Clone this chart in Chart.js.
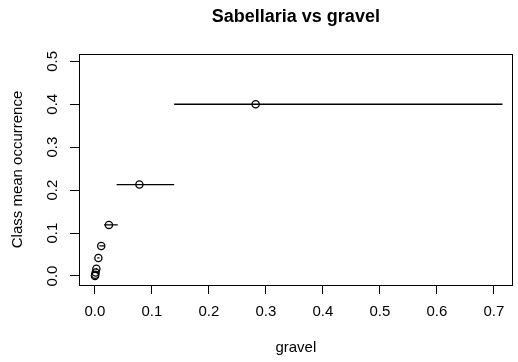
<!DOCTYPE html>
<html lang="en">

<head>
  <meta charset="UTF-8">
  <title>Sabellaria vs gravel</title>
  <style>
    body { margin: 0; background: #fff; }
    .grafico { width: 518px; height: 362px; }
  </style>
</head>

<body>
  <div class="grafico">
    <canvas id="chartSabellaria"></canvas>
  </div>
</body>

</html>
<script src="https://cdn.jsdelivr.net/npm/chart.js"></script>

<script>
  // valores (média de cada classe de gravel)
  var gravelMedia = [0.282, 0.078, 0.0245, 0.011, 0.006, 0.0025, 0.0012, 0.0005, 0.0];
  var ocorrencia = [0.400, 0.213, 0.119, 0.070, 0.042, 0.017, 0.008, 0.003, 0.0];
  // limites de cada classe (barra horizontal)
  var gravelMin = [0.139, 0.038, 0.016, 0.008, 0.004, 0.0015, 0.0008, 0.0002, 0.0];
  var gravelMax = [0.715, 0.139, 0.040, 0.016, 0.008, 0.004, 0.0016, 0.0008, 0.0002];

  var ticksX = [0, 0.1, 0.2, 0.3, 0.4, 0.5, 0.6, 0.7];
  var ticksY = [0, 0.1, 0.2, 0.3, 0.4, 0.5];

  var fonte = "'Liberation Sans', Arial, sans-serif";

  // uma linha para cada classe
  var datasets = [];
  for (var i = 0; i < gravelMedia.length; i++) {
    datasets.push({
      data: [{ x: gravelMin[i], y: ocorrencia[i] }, { x: gravelMax[i], y: ocorrencia[i] }],
      showLine: true,
      borderColor: '#000',
      borderWidth: 1.3,
      pointRadius: 0
    });
  }
  // os círculos
  datasets.push({
    data: gravelMedia.map((g, i) => ({ x: g, y: ocorrencia[i] })),
    pointStyle: 'circle',
    pointRadius: 3.6,
    borderWidth: 1.3,
    borderColor: '#000',
    backgroundColor: 'rgba(0,0,0,0)'
  });

  // caixa em volta da área do gráfico
  var moldura = {
    id: 'moldura',
    afterDraw(chart) {
      var a = chart.chartArea;
      var ctx = chart.ctx;
      ctx.save();
      ctx.strokeStyle = '#000';
      ctx.lineWidth = 1;
      ctx.strokeRect(Math.round(a.left) + 0.5, Math.round(a.top) + 0.5,
        Math.round(a.right - a.left) - 1, Math.round(a.bottom - a.top));
      ctx.restore();
    }
  };

  var eixo = {
    grid: { drawOnChartArea: false, drawTicks: true, tickLength: 9, color: '#000', lineWidth: 1 },
    border: { display: true, color: '#000', width: 1 }
  };

  var canva = document.getElementById("chartSabellaria");
  var grafico = new Chart(canva, {
    type: 'scatter',
    data: { datasets: datasets },
    options: {
      responsive: true,
      maintainAspectRatio: false,
      animation: false,
      layout: { padding: { left: 0, right: 1, top: 0, bottom: 0 } },
      plugins: {
        legend: { display: false },
        tooltip: { enabled: false },
        title: {
          display: true,
          fullSize: false,
          text: 'Sabellaria vs gravel',
          color: '#000',
          font: { family: fonte, size: 18, weight: 'bold' },
          padding: { top: 6, bottom: 26.4 }
        }
      },
      scales: {
        x: {
          type: 'linear',
          min: -0.028,
          max: 0.733,
          afterBuildTicks: (s) => { s.ticks = ticksX.map(v => ({ value: v })); },
          afterFit: (s) => { s.height = 77; s.paddingLeft = 0; s.paddingRight = 0; },
          ticks: {
            padding: 9, maxRotation: 0, color: '#000',
            font: { family: fonte, size: 15 },
            callback: (v) => v.toFixed(1)
          },
          grid: eixo.grid,
          border: eixo.border,
          title: {
            display: true, text: 'gravel', color: '#000',
            font: { family: fonte, size: 15 },
            padding: { top: 0, bottom: 5 }
          }
        },
        y: {
          type: 'linear',
          min: -0.021,
          max: 0.517,
          afterBuildTicks: (s) => { s.ticks = ticksY.map(v => ({ value: v })); },
          afterFit: (s) => { s.width = 79; s.paddingTop = 0; s.paddingBottom = 0; },
          ticks: {
            minRotation: 90, maxRotation: 90, crossAlign: 'center', padding: 7,
            color: '#000',
            font: { family: fonte, size: 15 },
            callback: (v) => v.toFixed(1)
          },
          grid: eixo.grid,
          border: eixo.border,
          title: {
            display: true, text: 'Class mean occurrence', color: '#000',
            font: { family: fonte, size: 15 },
            padding: { top: 9, bottom: 0 }
          }
        }
      }
    },
    plugins: [moldura]
  });
</script>
